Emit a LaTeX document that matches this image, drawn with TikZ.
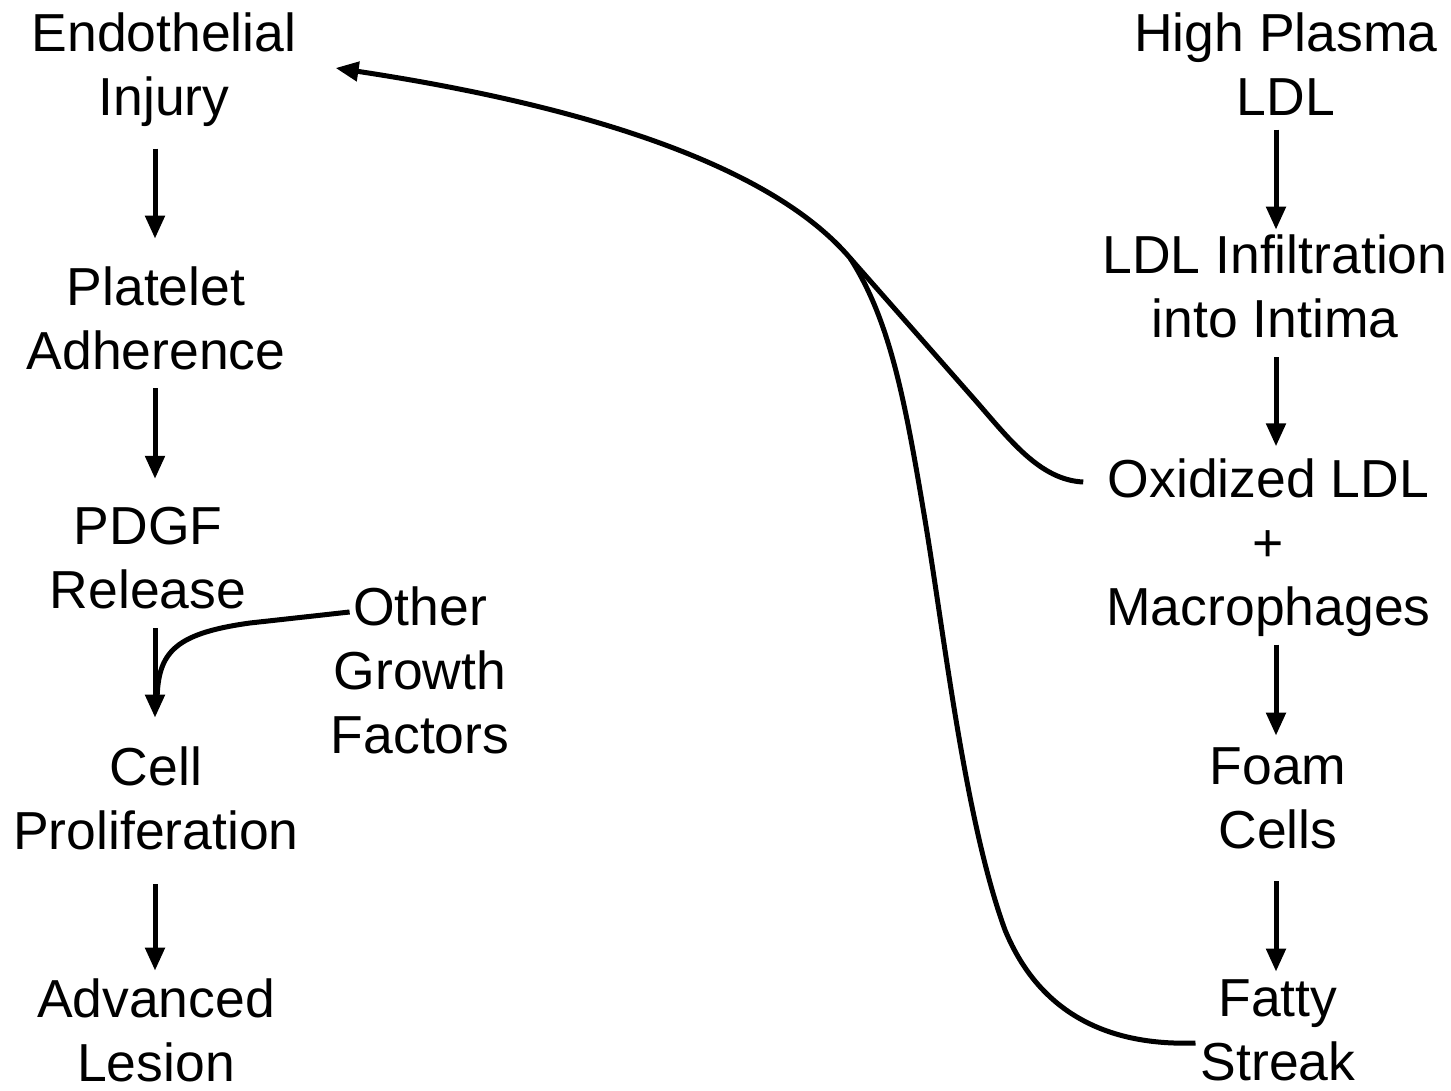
\documentclass[tikz,border=0pt]{standalone}
\usepackage{fontspec}
\setmainfont{Liberation Sans}
\usetikzlibrary{arrows.meta}
\begin{document}
\begin{tikzpicture}[x=1pt,y=-1pt,
  lbl/.style={inner sep=0pt, align=center, font=\fontsize{53.5}{64}\selectfont},
  arr/.style={line width=5pt, -{Triangle[length=23pt,width=19pt]}},
  crv/.style={line width=5pt}]
\useasboundingbox (0,0) rectangle (1451,1091);
% left column
\node[lbl] (endo) at (164,69.5) {Endothelial\\Injury};
\node[lbl] (plat) at (156,318.5) {Platelet\\Adherence};
\node[lbl] (pdgf) at (148,558) {PDGF\\Release};
\node[lbl] (cell) at (156,798.5) {Cell\\Proliferation};
\node[lbl] (adv) at (156,1030.5) {Advanced\\Lesion};
\node[lbl] (other) at (420,670) {Other\\Growth\\Factors};
% right column
\node[lbl] (high) at (1286,64) {High Plasma\\LDL};
\node[lbl] (infil) at (1275,286.5) {LDL Infiltration\\into Intima};
\node[lbl] (ox) at (1268.5,547.5) {Oxidized LDL\\+\\Macrophages};
\node[lbl] (foam) at (1278,798.5) {Foam\\Cells};
\node[lbl] (fatty) at (1278,1030.5) {Fatty\\Streak};
% column axes
\coordinate (colL) at (155,0);
\coordinate (colR) at (1276,0);
% left arrows
\draw[arr, shorten <=22pt, shorten >=28pt] (colL |- endo.south) -- (colL |- plat.north);
\draw[arr, shorten <=18pt, shorten >=28pt] (colL |- plat.south) -- (colL |- pdgf.north);
\draw[arr, shorten <=19pt, shorten >=29pt] (colL |- pdgf.south) -- (colL |- cell.north);
\draw[arr, shorten <=34pt, shorten >=8pt] (colL |- cell.south) -- (colL |- adv.north);
\draw[crv] ([xshift=19pt,yshift=58pt]other.west) -- (250,623)
  .. controls (170,634) and (157,655) .. (157,705);
% right arrows
\draw[arr, shorten <=14pt, shorten >=5pt] (colR |- high.south) -- (colR |- infil.north);
\draw[arr, shorten <=19pt, shorten >=12pt] (colR |- infil.south) -- (colR |- ox.north);
\draw[arr, shorten <=8pt, shorten >=12pt] (colR |- ox.south) -- (colR |- foam.north);
\draw[arr, shorten <=32pt, shorten >=8pt] (colR |- foam.south) -- (colR |- fatty.north);
% long curves
\coordinate (j) at (850,258);
\draw[arr] ([xshift=-23pt,yshift=65.5pt]ox.west) .. controls (1040,480) and (1010,440) .. (975,400)
  -- (j) .. controls (775,170) and (600,108) .. ([xshift=39pt,yshift=1.5pt]endo.east);
\draw[crv] ([xshift=-5pt,yshift=-12.5pt]fatty.west) .. controls (1110,1046) and (1040,1015) .. (1005,930)
  .. controls (965,820) and (945,640) .. (925,520)
  .. controls (905,400) and (890,320) .. (j);
\end{tikzpicture}
\end{document}
